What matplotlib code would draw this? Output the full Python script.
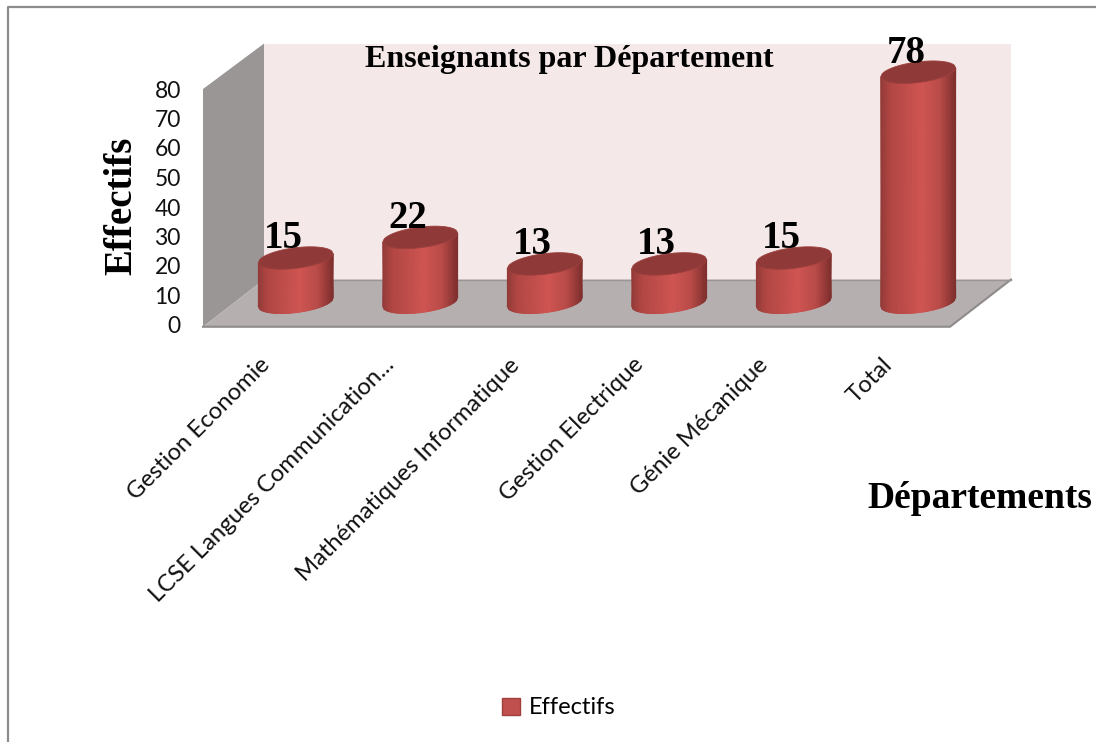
import numpy as np
import matplotlib
matplotlib.use("Agg")
import matplotlib.pyplot as plt
from matplotlib.colors import LinearSegmentedColormap
from matplotlib.lines import Line2D
from matplotlib.patches import Patch, Polygon
from matplotlib.transforms import ScaledTranslation

departements = ["Gestion Economie", "LCSE Langues Communication...", "Mathématiques Informatique",
                "Gestion Electrique", "Génie Mécanique", "Total"]
effectifs = [15, 22, 13, 13, 15, 78]
y_ticks = [0, 10, 20, 30, 40, 50, 60, 70, 80]

W, H = 1096, 742
SERIF = "Liberation Serif"
SANS = "Lato"

fig = plt.figure(figsize=(W / 100, H / 100), dpi=100, facecolor="white")
ax = fig.add_axes([203 / W, 1 - 325 / H, 747 / W, 236 / H])
ax.patch.set_visible(False)
for s in ax.spines.values():
    s.set_visible(False)

# frame of the chart area, only left and top are inside the picture
fig.add_artist(Line2D([8 / W, 8 / W, 1], [0, 1 - 7 / H, 1 - 7 / H], color="#8c8c8c", linewidth=1.6))

# depth of the fake 3D box, in data units
dx, dy = 0.49, 15.4
x0, x1 = -0.5, 5.5
ax.add_patch(Polygon([(x0 + dx, dy), (x1 + dx, dy), (x1 + dx, 80 + dy), (x0 + dx, 80 + dy)],
                     facecolor="#f4e8e8", edgecolor="none", clip_on=False, zorder=1))
ax.add_patch(Polygon([(x0, -0.6), (x0 + dx, dy), (x0 + dx, 80 + dy), (x0, 80)],
                     facecolor="#9b9696", edgecolor="none", clip_on=False, zorder=1))
ax.add_patch(Polygon([(x0, -0.6), (x0 + dx, dy), (x1 + dx, dy), (x1, -0.6)],
                     facecolor="#b5afaf", edgecolor="none", clip_on=False, zorder=1))
ax.plot([x0, x1, x1 + dx], [-0.6, -0.6, dy], color="#8f8b8b", linewidth=1.5, clip_on=False, zorder=2)
ax.plot([x0 + dx, x1 + dx], [dy, dy], color="#9a9696", linewidth=1, clip_on=False, zorder=2)

# cylinders
cyl = LinearSegmentedColormap.from_list("cyl", [(0, "#933b39"), (0.12, "#b04643"), (0.55, "#cf5552"),
                                                (0.8, "#b84b48"), (1, "#7f302e")])
rx, ry, tilt = 0.30, 3.5, 1.5
t = np.linspace(-1, 1, 61)
lower = -ry * np.sqrt(1 - t ** 2) + tilt * t
upper = ry * np.sqrt(1 - t ** 2) + tilt * t
for i, v in enumerate(effectifs):
    cx, base = i + dx / 2, dy / 2
    X = np.vstack([cx + rx * t, cx + rx * t])
    Y = np.vstack([base + lower, base + v + lower])
    C = np.vstack([(t + 1) / 2, (t + 1) / 2])
    ax.pcolormesh(X, Y, C, shading="gouraud", cmap=cyl, vmin=0, vmax=1, clip_on=False, zorder=3)
    top = np.column_stack([np.r_[cx + rx * t, cx + rx * t[::-1]],
                           np.r_[base + v + lower, base + v + upper[::-1]]])
    ax.add_patch(Polygon(top, facecolor="#8f3a38", edgecolor="#9c3f3c", linewidth=0.6,
                         clip_on=False, zorder=4))
    ax.text(i + 0.145, v + 14.2, str(v), family=SERIF, weight="bold", fontsize=28,
            ha="center", va="center", color="black", zorder=5)

ax.set_xlim(x0, x1)
ax.set_ylim(0, 80)
ax.set_yticks(y_ticks)
ax.set_xticks(range(len(departements)))
ax.set_xticklabels(departements, rotation=45, ha="right", va="top", rotation_mode="anchor",
                   family=SANS, fontsize=17.2, color="#111111")
ax.tick_params(axis="x", length=0, pad=21)
ax.tick_params(axis="y", length=0, pad=16)
shift = ScaledTranslation(-6 / 100, 0, fig.dpi_scale_trans)
for lab in ax.get_xticklabels():
    lab.set_transform(lab.get_transform() + shift)
for lab in ax.get_yticklabels():
    lab.set_family(SANS)
    lab.set_fontsize(16.5)
    lab.set_color("#111111")

fig.text(569 / W, 1 - 59 / H, "Enseignants par Département", family=SERIF, weight="bold",
         fontsize=23, ha="center", va="center", color="black", zorder=6)
fig.text(122 / W, 1 - 206 / H, "Effectifs", family=SERIF, weight="bold", fontsize=28,
         rotation=90, ha="center", va="center", color="black")
fig.text(980 / W, 1 - 498 / H, "Départements", family=SERIF, weight="bold", fontsize=27,
         ha="center", va="center", color="black")

fig.legend(handles=[Patch(facecolor="#c0504d", edgecolor="#a03f3c", label="Effectifs")],
           loc="center", bbox_to_anchor=(559 / W, 1 - 708 / H), frameon=False,
           prop={"family": SANS, "size": 17}, handlelength=0.75, handleheight=0.75, handletextpad=0.4)

fig.savefig("out.png", dpi=100)
plt.close(fig)
